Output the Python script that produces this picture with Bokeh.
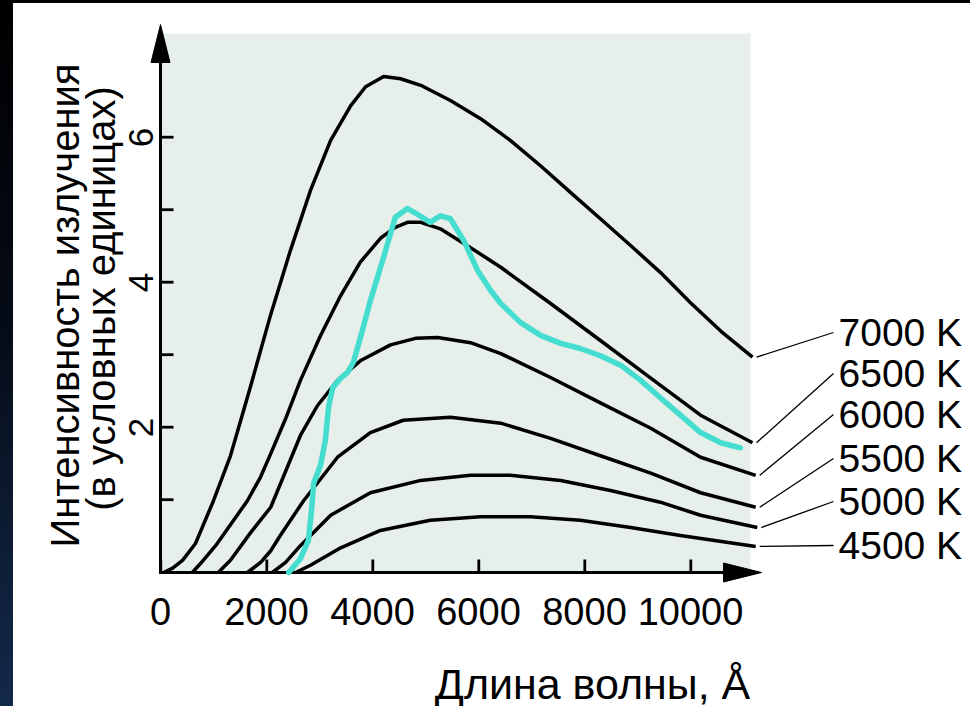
from math import pi
from bokeh.plotting import figure
from bokeh.models import Div, Range1d
from bokeh.layouts import row, column
from bokeh.embed import file_html
from bokeh.resources import INLINE
from bokeh.core.properties import value

# ---------------- data ----------------
temps = ["7000 K", "6500 K", "6000 K", "5500 K", "5000 K", "4500 K"]

wl_7000 = [60, 230, 420, 660, 1000, 1320, 1700, 2080, 2450, 2830, 3210, 3590,
           3870, 4210, 4530, 4910, 5470, 6040, 6600, 7170, 7740, 8300, 8870,
           9430, 10000, 10570, 11170]
i_7000 = [0.0, 0.06, 0.17, 0.40, 0.99, 1.61, 2.57, 3.56, 4.44, 5.27, 5.96, 6.44,
          6.70, 6.84, 6.81, 6.72, 6.51, 6.26, 5.96, 5.61, 5.24, 4.88, 4.51,
          4.14, 3.72, 3.33, 2.97]

wl_6500 = [600, 750, 1040, 1320, 1640, 1890, 2080, 2360, 2640, 3020, 3400, 3770,
           4150, 4430, 4660, 4910, 5280, 5850, 6420, 7360, 8300, 9250, 10190, 11170]
i_6500 = [0.0, 0.12, 0.37, 0.66, 0.99, 1.32, 1.64, 2.12, 2.65, 3.27, 3.82, 4.28,
          4.61, 4.76, 4.83, 4.83, 4.74, 4.48, 4.21, 3.71, 3.20, 2.68, 2.17, 1.79]

wl_6000 = [1090, 1320, 1700, 2080, 2640, 2960, 3340, 3770, 4340, 4810, 5230,
           5850, 6420, 7360, 8300, 9250, 10190, 11230]
i_6000 = [0.0, 0.17, 0.55, 0.90, 1.89, 2.30, 2.65, 2.92, 3.14, 3.23, 3.24,
          3.17, 3.02, 2.69, 2.34, 1.99, 1.59, 1.34]

wl_5500 = [1640, 1890, 2080, 2260, 2700, 3340, 3960, 4580, 5470, 6420, 7360,
           8300, 9250, 10190, 11230]
i_5500 = [0.0, 0.14, 0.30, 0.51, 0.99, 1.59, 1.93, 2.10, 2.14, 2.06, 1.85,
          1.61, 1.37, 1.10, 0.90]

wl_5000 = [2110, 2360, 2640, 3210, 3960, 4910, 5850, 6600, 7550, 8490, 9430,
           10190, 11260]
i_5000 = [0.0, 0.14, 0.37, 0.79, 1.10, 1.27, 1.34, 1.34, 1.27, 1.13, 0.97,
          0.79, 0.62]

wl_4500 = [2550, 2830, 3400, 4150, 5090, 6040, 6980, 7920, 8870, 9810, 11230]
i_4500 = [0.0, 0.10, 0.34, 0.58, 0.72, 0.77, 0.77, 0.72, 0.62, 0.51, 0.36]

# spectrum of the Sun (turquoise curve)
wl_sun = [2420, 2640, 2790, 2850, 2890, 3020, 3110, 3170, 3250, 3400, 3530,
          3640, 3810, 3960, 4210, 4430, 4660, 4850, 5090, 5280, 5470, 5720,
          5980, 6230, 6420, 6790, 7170, 7550, 7920, 8300, 8680, 9060, 9430,
          9810, 10190, 10570, 10940]
i_sun = [0.0, 0.19, 0.44, 0.86, 1.23, 1.48, 1.82, 2.28, 2.55, 2.68, 2.76,
         2.90, 3.34, 3.75, 4.35, 4.90, 5.02, 4.94, 4.83, 4.92, 4.88, 4.58,
         4.17, 3.89, 3.71, 3.45, 3.27, 3.16, 3.09, 2.99, 2.86, 2.65, 2.41,
         2.17, 1.93, 1.79, 1.72]

x_ticks = [0, 2000, 4000, 6000, 8000, 10000]
y_ticks = [2, 4, 6]
y_tick_marks = [1, 2, 3, 4, 5, 6]

y_title = ["Интенсивность излучения", "(в условных единицах)"]
x_title = "Длина волны, Å"

curves_wl = [wl_7000, wl_6500, wl_6000, wl_5500, wl_5000, wl_4500]
curves_i = [i_7000, i_6500, i_6000, i_5500, i_5000, i_4500]

# ---------------- layout helpers (page pixels -> data) ----------------
X0_PX, SX = 160.0, 0.053     # page x of 0 Å, px per Å
Y0_PX, SY = 572.0, 72.5      # page y of 0, px per unit
OFF_X, OFF_Y = 13, 3         # dark strip / top band
TICK, TW = 13, 1.4           # tick length, half tick width (px)
NUDGE = 0.3                  # sub-pixel shift of tick marks (px)


def dx(px):
    return (px - X0_PX) / SX


def dy(py):
    return (Y0_PX - py) / SY


FONT = "Liberation Sans"
W, H = 970 - OFF_X, 706 - OFF_Y

p = figure(width=W, height=H, output_backend="svg", toolbar_location=None,
           x_range=Range1d(dx(OFF_X), dx(970)),
           y_range=Range1d(dy(706), dy(OFF_Y)),
           min_border_left=0, min_border_right=0,
           min_border_top=0, min_border_bottom=0)
p.outline_line_color = None
p.xaxis.visible = False
p.yaxis.visible = False
p.xgrid.grid_line_color = None
p.ygrid.grid_line_color = None
p.background_fill_color = "white"
p.border_fill_color = "white"

# shaded plotting area
p.quad(left=[0], right=[dx(750)], bottom=[0], top=[dy(33)],
       fill_color="#e6efea", line_color=None, level="underlay")

# axis lines, drawn through the data scales
p.segment(x0=[0, 0], y0=[0, 0], x1=[dx(726), 0], y1=[0, dy(60)],
          line_color="black", line_width=3, line_cap="square")

# tick labels
p.text(x=x_ticks, y=[dy(611)] * len(x_ticks), text=[str(t) for t in x_ticks],
       text_font=value(FONT), text_font_size="38px", text_align="center",
       text_baseline="middle", text_color="black")
p.text(x=[dx(140)] * len(y_ticks), y=y_ticks, text=[str(t) for t in y_ticks],
       angle=pi / 2, text_font=value(FONT), text_font_size="35px",
       text_align="center", text_baseline="middle", text_color="black")

# arrow heads
p.patches(xs=[[dx(761), dx(723), dx(723)], [0, dx(150.5), dx(169.5)]],
          ys=[[0, dy(562.5), dy(581.5)], [dy(24), dy(62), dy(62)]],
          fill_color="black", line_color="black", line_width=1)

# black body curves
for wl, it in zip(curves_wl, curves_i):
    p.line(wl, it, line_color="black", line_width=3.5, line_join="round")

# the Sun
p.line(wl_sun, i_sun, line_color="#45ddd0", line_width=5.5, line_join="round",
       line_cap="round")

# leader lines and temperature labels
label_y = [dy(v) for v in (332, 373, 414, 458, 501, 545)]
x0s = [wl[-1] + 4 / SX for wl in curves_wl]
y0s = [it[-1] for it in curves_i]
p.segment(x0=x0s, y0=y0s, x1=[dx(833)] * 6, y1=label_y,
          line_color="black", line_width=1.3)
p.text(x=[dx(838)] * 6, y=label_y, text=temps, text_font=value(FONT),
       text_font_size="39px", text_baseline="middle", text_align="left",
       text_color="black")

# axis titles
p.text(x=[dx(64), dx(100)], y=[dy(305), dy(298)], text=y_title, angle=pi / 2,
       text_font=value(FONT), text_font_size="40px", text_align="center",
       text_baseline="middle", text_color="black")
p.text(x=[dx(592)], y=[dy(683)], text=[x_title], text_font=value(FONT),
       text_font_size="43px", text_align="center",
       text_baseline="alphabetic", text_color="black")

# inward tick marks on both axes, drawn last, on top of everything
xt = [t + NUDGE / SX for t in x_ticks]
yt = [t + NUDGE / SY for t in y_tick_marks]
p.quad(left=[t - TW / SX for t in xt], right=[t + TW / SX for t in xt],
       bottom=[0] * len(xt), top=[TICK / SY] * len(xt),
       fill_color="black", line_color=None, level="overlay")
p.quad(left=[0] * len(yt), right=[TICK / SX] * len(yt),
       bottom=[t - TW / SY for t in yt], top=[t + TW / SY for t in yt],
       fill_color="black", line_color=None, level="overlay")

top_band = Div(width=970, height=OFF_Y, margin=0,
               styles={"background-color": "#000000"})
side = Div(width=OFF_X, height=H, margin=0,
           styles={"background": "linear-gradient(to bottom, #000000 0%, "
                                 "#050b16 45%, #13294a 100%)"})
p.margin = 0
layout = column(top_band, row(side, p, spacing=0), spacing=0)

open("out.html", "w").write(file_html(layout, INLINE))
